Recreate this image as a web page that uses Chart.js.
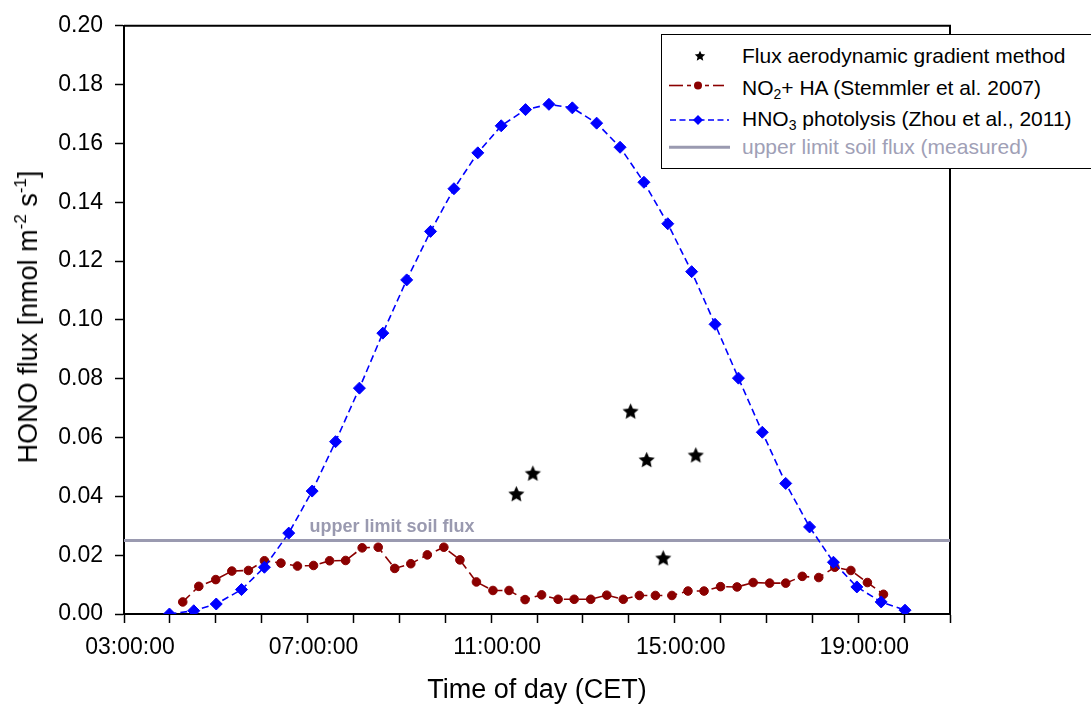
<!DOCTYPE html>
<html>
<head>
<meta charset="utf-8">
<script src="https://cdn.jsdelivr.net/npm/chart.js@4.4.1/dist/chart.umd.min.js"></script>
<style>
  html, body { margin: 0; padding: 0; background: #fff; overflow: hidden; }
  #wrap { position: relative; width: 1091px; height: 706px; overflow: hidden;
          font-family: 'Liberation Sans', Arial, sans-serif; color: #000; }
  #chart { position: absolute; left: 0; top: 0; }
  .ytitle { position: absolute; left: 28px; top: 317px; font-size: 27px; line-height: 30px;
            white-space: nowrap; transform: translate(-50%, -50%) rotate(-90deg); }
  .ytitle sup { font-size: 17px; line-height: 0; vertical-align: 11px; }
  .xtitle { position: absolute; left: 537px; top: 674px; font-size: 27px; line-height: 30px;
            white-space: nowrap; transform: translateX(-50%); }
  #legend-box { position: absolute; left: 661px; top: 34px; width: 450px; height: 135px;
                box-sizing: border-box; border: 1.5px solid #000; background: #fff; }
  #legend-marks { position: absolute; left: 0; top: 0; pointer-events: none; }
  .leg { position: absolute; left: 742px; font-size: 21px; line-height: 24px; white-space: nowrap; }
  .leg sub { font-size: 14px; line-height: 0; vertical-align: -4px; }
  .leg.gray { color: #a0a0b6; }
</style>
</head>
<body>
<div id="wrap">
  <canvas id="chart" width="1091" height="706"></canvas>
  <div class="ytitle">HONO flux [nmol m<sup>-2</sup> s<sup>-1</sup>]</div>
  <div class="xtitle">Time of day (CET)</div>
  <div id="legend-box"></div>
  <svg id="legend-marks" width="1091" height="706"></svg>
  <div class="leg" style="top:44px">Flux aerodynamic gradient method</div>
  <div class="leg" style="top:75.7px">NO<sub>2</sub>+ HA (Stemmler et al. 2007)</div>
  <div class="leg" style="top:107.4px">HNO<sub>3</sub> photolysis (Zhou et al., 2011)</div>
  <div class="leg gray" style="top:134.7px">upper limit soil flux (measured)</div>
</div>
<script>
// Axis ranges (time of day in hours, flux in nmol m-2 s-1)
const xMin = 3;
const xMax = 21;
const yMin = 0;
const yMax = 0.2;
const xLabelHours = [3, 7, 11, 15, 19];

// Flux aerodynamic gradient method (stars)
const fluxHours = [11.55, 11.91, 14.04, 14.39, 14.75, 15.46];
const fluxValues = [0.0409, 0.0479, 0.0690, 0.0525, 0.0191, 0.0541];

// NO2 + HA (Stemmler et al. 2007)
const no2Hours = [4.28, 4.63, 5.00, 5.35, 5.71, 6.06, 6.42, 6.78, 7.13, 7.48, 7.83,
  8.19, 8.54, 8.90, 9.25, 9.61, 9.97, 10.32, 10.68, 11.04, 11.39, 11.74, 12.10,
  12.46, 12.81, 13.17, 13.52, 13.88, 14.23, 14.58, 14.94, 15.29, 15.64, 16.00,
  16.36, 16.71, 17.07, 17.42, 17.78, 18.14, 18.49, 18.84, 19.20, 19.55];
const no2Values = [0.0041, 0.0094, 0.0117, 0.0146, 0.0148, 0.0181, 0.0173, 0.0163,
  0.0165, 0.0181, 0.0182, 0.0225, 0.0227, 0.0155, 0.0171, 0.0201, 0.0227, 0.0184,
  0.0109, 0.0080, 0.0080, 0.0049, 0.0065, 0.0050, 0.0050, 0.0050, 0.0064, 0.0050,
  0.0063, 0.0063, 0.0063, 0.0078, 0.0078, 0.0093, 0.0092, 0.0107, 0.0105, 0.0105,
  0.0128, 0.0124, 0.0159, 0.0148, 0.0107, 0.0067];

// HNO3 photolysis (Zhou et al., 2011)
const hno3Hours = [3.99, 4.52, 5.01, 5.56, 6.06, 6.59, 7.10, 7.61, 8.13, 8.64, 9.16,
  9.68, 10.19, 10.71, 11.22, 11.75, 12.26, 12.77, 13.30, 13.81, 14.33, 14.85, 15.37,
  15.88, 16.39, 16.91, 17.42, 17.94, 18.46, 18.97, 19.50, 20.02];
const hno3Values = [0.0000, 0.0011, 0.0034, 0.0083, 0.0159, 0.0275, 0.0418, 0.0586,
  0.0768, 0.0955, 0.1136, 0.1301, 0.1446, 0.1568, 0.1660, 0.1715, 0.1733, 0.1721,
  0.1669, 0.1587, 0.1468, 0.1327, 0.1164, 0.0985, 0.0802, 0.0618, 0.0444, 0.0296,
  0.0176, 0.0092, 0.0041, 0.0013];

// Upper limit soil flux (measured)
const soilLimit = 0.025;
const soilLabel = 'upper limit soil flux';
const soilLabelHour = 7.04;

// Colours
const RED = '#8b0000';
const BLUE = '#0000ff';
const GRAY = '#9a9ab0';
const FONT = "'Liberation Sans', Arial, sans-serif";

function toPoints(xs, ys) {
  return xs.map((x, i) => ({ x: x, y: ys[i] }));
}

// five-pointed filled star, returns polygon points around (cx, cy)
function starPoints(cx, cy, outer, inner) {
  const pts = [];
  for (let i = 0; i < 10; i++) {
    const r = i % 2 ? inner : outer;
    const a = -Math.PI / 2 + i * Math.PI / 5;
    pts.push([cx + r * Math.cos(a), cy + r * Math.sin(a)]);
  }
  return pts;
}

function makeStar(outer) {
  const size = Math.ceil(outer * 2 + 2);
  const c = document.createElement('canvas');
  c.width = size;
  c.height = size;
  const g = c.getContext('2d');
  const pts = starPoints(size / 2, size / 2 + outer * 0.095, outer, outer * 0.47);
  g.beginPath();
  pts.forEach(p => g.lineTo(p[0], p[1]));
  g.closePath();
  g.fillStyle = '#000';
  g.fill();
  return c;
}

// Top and right frame lines
const framePlugin = {
  id: 'frame',
  beforeDatasetsDraw(chart) {
    const { ctx, chartArea: a } = chart;
    ctx.save();
    ctx.strokeStyle = '#000';
    ctx.lineWidth = 2;
    ctx.beginPath();
    ctx.moveTo(a.left, a.top);
    ctx.lineTo(a.right, a.top);
    ctx.lineTo(a.right, a.bottom);
    ctx.stroke();
    ctx.restore();
  }
};

// Text above the soil flux line
const soilLabelPlugin = {
  id: 'soilLabel',
  afterDatasetsDraw(chart) {
    const { ctx, scales } = chart;
    ctx.save();
    ctx.font = 'bold 18px ' + FONT;
    ctx.fillStyle = GRAY;
    ctx.textBaseline = 'alphabetic';
    ctx.fillText(soilLabel, scales.x.getPixelForValue(soilLabelHour),
      scales.y.getPixelForValue(soilLimit) - 8);
    ctx.restore();
  }
};

const ctx = document.getElementById('chart').getContext('2d');
new Chart(ctx, {
  type: 'line',
  data: {
    datasets: [
      {
        label: 'Flux aerodynamic gradient method',
        data: toPoints(fluxHours, fluxValues),
        showLine: false,
        pointStyle: makeStar(8.5),
        order: 0
      },
      {
        label: 'HNO3 photolysis (Zhou et al., 2011)',
        data: toPoints(hno3Hours, hno3Values),
        borderColor: BLUE,
        borderWidth: 1.6,
        borderDash: [7, 4],
        pointStyle: 'rectRot',
        pointRadius: 6,
        pointBackgroundColor: BLUE,
        pointBorderColor: BLUE,
        pointBorderWidth: 1,
        order: 1
      },
      {
        label: 'NO2+ HA (Stemmler et al. 2007)',
        data: toPoints(no2Hours, no2Values),
        borderColor: RED,
        borderWidth: 1.6,
        borderDash: [10, 5],
        pointStyle: 'circle',
        pointRadius: 4.3,
        pointBackgroundColor: RED,
        pointBorderColor: RED,
        pointBorderWidth: 1,
        order: 2
      },
      {
        label: 'upper limit soil flux (measured)',
        data: [{ x: xMin, y: soilLimit }, { x: xMax, y: soilLimit }],
        borderColor: GRAY,
        borderWidth: 3,
        pointRadius: 0,
        order: 3
      }
    ]
  },
  options: {
    responsive: false,
    animation: false,
    events: [],
    layout: { padding: { left: 0, top: 20, right: 141, bottom: 0 } },
    plugins: {
      legend: { display: false },
      tooltip: { enabled: false }
    },
    scales: {
      x: {
        type: 'linear',
        min: xMin,
        max: xMax,
        afterFit: s => { s.height = 92; },
        ticks: {
          stepSize: 1,
          autoSkip: false,
          maxRotation: 0,
          padding: 11,
          labelOffset: 6,
          color: '#000',
          font: { family: FONT, size: 23 },
          callback: v => xLabelHours.includes(v) ? String(v).padStart(2, '0') + ':00:00' : ''
        },
        grid: { drawOnChartArea: false, tickLength: 9, tickColor: '#000', tickWidth: 1.5 },
        border: { color: '#000', width: 2 }
      },
      y: {
        min: yMin,
        max: yMax,
        afterFit: s => { s.width = 124; },
        ticks: {
          stepSize: 0.02,
          padding: 12,
          color: '#000',
          font: { family: FONT, size: 23 },
          callback: v => v.toFixed(2)
        },
        grid: { drawOnChartArea: false, tickLength: 9, tickColor: '#000', tickWidth: 1.5 },
        border: { color: '#000', width: 2 }
      }
    }
  },
  plugins: [framePlugin, soilLabelPlugin]
});

// Legend symbols
const svgNS = 'http://www.w3.org/2000/svg';
const marks = document.getElementById('legend-marks');
function addEl(tag, attrs) {
  const el = document.createElementNS(svgNS, tag);
  for (const k in attrs) el.setAttribute(k, attrs[k]);
  marks.appendChild(el);
}
addEl('polygon', {
  points: starPoints(700, 56.2, 5.5, 5.5 * 0.47).map(p => p.join(',')).join(' '),
  fill: '#000'
});
[[669, 683], [687, 691], [705, 709], [713, 724]].forEach(s => {
  addEl('line', { x1: s[0], y1: 85.5, x2: s[1], y2: 85.5, stroke: RED, 'stroke-width': 1.6 });
});
addEl('circle', { cx: 698, cy: 85.5, r: 4, fill: RED });
addEl('line', { x1: 670, y1: 120, x2: 729, y2: 120, stroke: BLUE, 'stroke-width': 1.6,
  'stroke-dasharray': '6 3.5' });
addEl('polygon', { points: '698,115 703,120 698,125 693,120', fill: BLUE });
addEl('line', { x1: 669, y1: 147.3, x2: 730, y2: 147.3, stroke: GRAY, 'stroke-width': 3 });
</script>
</body>
</html>
